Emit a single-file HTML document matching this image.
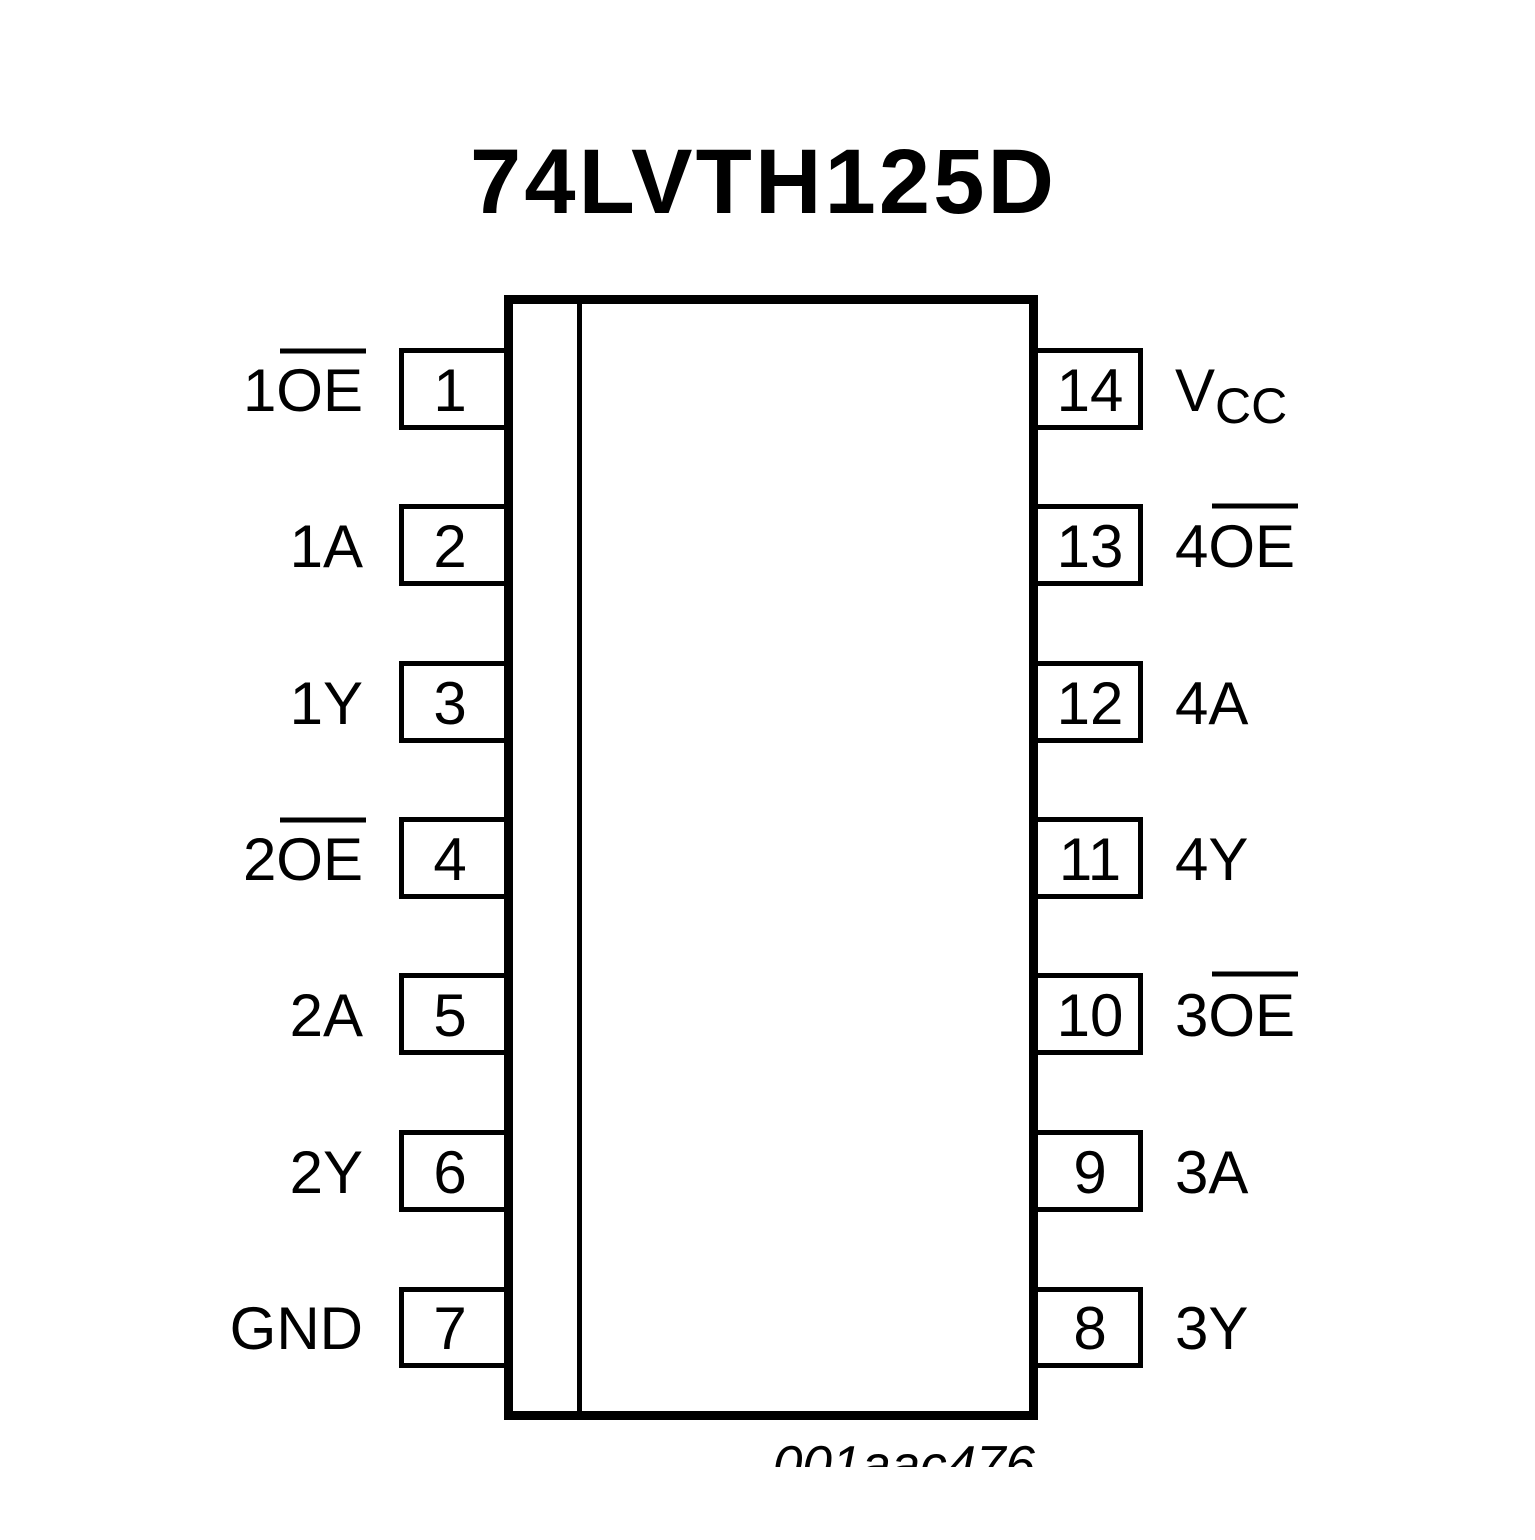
<!DOCTYPE html>
<html><head><style>html,body{margin:0;padding:0;background:#fff}</style></head>
<body>
<svg width="1535" height="1535" viewBox="0 0 1535 1535" xmlns="http://www.w3.org/2000/svg" font-family="Liberation Sans, sans-serif">
<rect width="1535" height="1535" fill="#fff"/>
<text x="470" y="213" font-size="92" font-weight="bold" letter-spacing="4" textLength="588" lengthAdjust="spacing">74LVTH125D</text>
<g fill="none" stroke="#000">
<rect x="508.5" y="299.5" width="525" height="1116" stroke-width="9"/>
<line x1="579.5" y1="304" x2="579.5" y2="1412" stroke-width="5"/>
</g>
<g fill="none" stroke="#000" stroke-width="5">
<path d="M504 350.5H401.5V427.5H504"/>
<path d="M504 506.5H401.5V583.5H504"/>
<path d="M504 663.5H401.5V740.5H504"/>
<path d="M504 819.5H401.5V896.5H504"/>
<path d="M504 975.5H401.5V1052.5H504"/>
<path d="M504 1132.5H401.5V1209.5H504"/>
<path d="M504 1289.5H401.5V1365.5H504"/>
<path d="M1037 350.5H1140.5V427.5H1037"/>
<path d="M1037 506.5H1140.5V583.5H1037"/>
<path d="M1037 663.5H1140.5V740.5H1037"/>
<path d="M1037 819.5H1140.5V896.5H1037"/>
<path d="M1037 975.5H1140.5V1052.5H1037"/>
<path d="M1037 1132.5H1140.5V1209.5H1037"/>
<path d="M1037 1289.5H1140.5V1365.5H1037"/>
</g>
<g font-size="60" text-anchor="middle">
<text x="450" y="411">1</text>
<text x="450" y="567">2</text>
<text x="450" y="724">3</text>
<text x="450" y="880">4</text>
<text x="450" y="1036">5</text>
<text x="450" y="1193">6</text>
<text x="450" y="1349">7</text>
<text x="1090" y="411">14</text>
<text x="1090" y="567">13</text>
<text x="1090" y="724">12</text>
<text x="1090" y="880">11</text>
<text x="1090" y="1036">10</text>
<text x="1090" y="1193">9</text>
<text x="1090" y="1349">8</text>
</g>
<g font-size="60" text-anchor="end">
<text x="363" y="411">1OE</text>
<text x="363" y="567">1A</text>
<text x="363" y="724">1Y</text>
<text x="363" y="880">2OE</text>
<text x="363" y="1036">2A</text>
<text x="363" y="1193">2Y</text>
<text x="363" y="1349">GND</text>
</g>
<g font-size="60">
<text x="1175" y="411">V<tspan font-size="50" dy="12">CC</tspan></text>
<text x="1175" y="567">4OE</text>
<text x="1175" y="724">4A</text>
<text x="1175" y="880">4Y</text>
<text x="1175" y="1036">3OE</text>
<text x="1175" y="1193">3A</text>
<text x="1175" y="1349">3Y</text>
</g>
<g stroke="#000" stroke-width="5">
<line x1="280" y1="351" x2="366" y2="351"/>
<line x1="280" y1="820" x2="366" y2="820"/>
<line x1="1212" y1="506" x2="1298" y2="506"/>
<line x1="1212" y1="974" x2="1298" y2="974"/>
</g>
<defs><clipPath id="c"><rect x="700" y="1420" width="400" height="47"/></clipPath></defs>
<text x="773" y="1482" font-size="52" font-style="italic" clip-path="url(#c)" textLength="262" lengthAdjust="spacingAndGlyphs">001aac476</text>
</svg>
</body></html>
